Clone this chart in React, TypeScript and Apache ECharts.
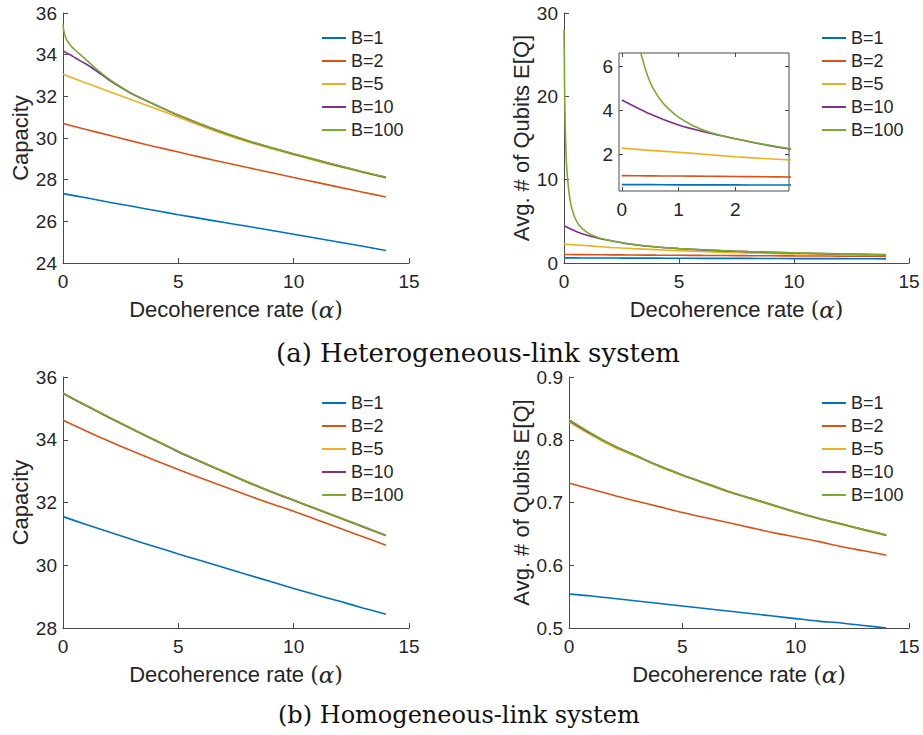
import React, { useEffect, useRef } from "react";
import * as echarts from "echarts";

// ---------- DATA ----------
const seriesNames = ["B=1", "B=2", "B=5", "B=10", "B=100"];
const seriesColors = ["#0072BD", "#D95319", "#EDB120", "#7E2F8E", "#77AC30"];

// (a) Heterogeneous-link system — capacity
const alphaCapFine = [0, 0.02, 0.05, 0.1, 0.2, 0.35, 0.5, 0.7, 1, 1.5, 2, 2.5, 3, 4, 5, 6, 7, 8, 9, 10, 11, 12, 13, 14];
const capHetB100 = [35.45, 35.25, 35.07, 34.87, 34.63, 34.42, 34.25, 34.05, 33.76, 33.26, 32.83, 32.46, 32.13, 31.6, 31.1, 30.66, 30.25, 29.88, 29.55, 29.24, 28.95, 28.66, 28.38, 28.12];
const capHetB10 = [34.18, 34.17, 34.15, 34.12, 34.06, 33.97, 33.87, 33.74, 33.55, 33.18, 32.78, 32.43, 32.11, 31.59, 31.09, 30.65, 30.24, 29.87, 29.54, 29.23, 28.94, 28.65, 28.37, 28.11];
const alphaCapCoarse = [0, 1, 2, 3, 4, 5, 6, 7, 8, 9, 10, 11, 12, 13, 14];
const capHetB5 = [33.06, 32.64, 32.23, 31.82, 31.42, 31.0, 30.58, 30.18, 29.82, 29.5, 29.2, 28.9, 28.62, 28.35, 28.08];
const capHetB2 = [30.7, 30.41, 30.13, 29.85, 29.58, 29.33, 29.07, 28.82, 28.58, 28.34, 28.1, 27.87, 27.63, 27.4, 27.17];
const capHetB1 = [27.33, 27.13, 26.92, 26.72, 26.52, 26.32, 26.13, 25.94, 25.76, 25.57, 25.38, 25.19, 25.0, 24.8, 24.6];

// (a) Heterogeneous-link system — average number of qubits
const alphaQFine = [0, 0.02, 0.04, 0.06, 0.08, 0.1, 0.13, 0.16, 0.2, 0.25, 0.3, 0.35, 0.45, 0.55, 0.7, 0.85, 1, 1.25, 1.5, 1.75, 2, 2.5, 3, 3.5, 4, 5, 6, 7, 8, 9, 10, 11, 12, 13, 14];
const qHetB100 = [28.0, 22.5, 18.5, 15.8, 13.8, 12.3, 11.0, 10.0, 8.9, 7.8, 7.0, 6.45, 5.6, 5.0, 4.4, 4.0, 3.68, 3.3, 3.04, 2.85, 2.7, 2.45, 2.24, 2.07, 1.94, 1.74, 1.59, 1.47, 1.37, 1.29, 1.21, 1.15, 1.09, 1.04, 1.0];
const alphaQCoarse = [0, 0.5, 1, 1.5, 2, 2.5, 3, 4, 5, 6, 7, 8, 9, 10, 11, 12, 13, 14];
const qHetB10 = [4.46, 3.82, 3.32, 2.98, 2.7, 2.44, 2.22, 1.92, 1.73, 1.58, 1.46, 1.36, 1.28, 1.2, 1.14, 1.08, 1.03, 0.99];
const qHetB5 = [2.27, 2.17, 2.08, 1.98, 1.88, 1.8, 1.73, 1.6, 1.48, 1.38, 1.3, 1.22, 1.16, 1.1, 1.05, 1.0, 0.96, 0.93];
const qHetB2 = [1.02, 1.01, 1.0, 0.99, 0.98, 0.97, 0.96, 0.94, 0.93, 0.91, 0.9, 0.88, 0.87, 0.85, 0.84, 0.83, 0.81, 0.8];
const qHetB1 = [0.61, 0.61, 0.6, 0.6, 0.6, 0.59, 0.59, 0.58, 0.57, 0.56, 0.55, 0.55, 0.54, 0.53, 0.52, 0.52, 0.51, 0.5];

// (b) Homogeneous-link system
const alphaHom = [0, 1, 2, 3, 4, 5, 6, 7, 8, 9, 10, 11, 12, 13, 14];
const capHomB1 = [31.55, 31.3, 31.06, 30.82, 30.59, 30.36, 30.14, 29.92, 29.7, 29.48, 29.26, 29.05, 28.85, 28.64, 28.44];
const capHomB2 = [34.62, 34.28, 33.95, 33.64, 33.34, 33.05, 32.77, 32.5, 32.23, 31.97, 31.72, 31.45, 31.18, 30.91, 30.64];
const capHomB5 = [35.47, 35.08, 34.7, 34.33, 33.97, 33.61, 33.28, 32.96, 32.64, 32.34, 32.06, 31.78, 31.5, 31.22, 30.94];
const capHomB10 = [35.48, 35.09, 34.71, 34.34, 33.98, 33.62, 33.29, 32.97, 32.65, 32.35, 32.07, 31.79, 31.51, 31.23, 30.95];
const capHomB100 = [35.49, 35.1, 34.72, 34.35, 33.99, 33.63, 33.3, 32.98, 32.66, 32.36, 32.08, 31.8, 31.52, 31.24, 30.96];
const qHomB1 = [0.554, 0.551, 0.547, 0.543, 0.539, 0.535, 0.531, 0.527, 0.523, 0.519, 0.515, 0.511, 0.508, 0.504, 0.5];
const qHomB2 = [0.731, 0.721, 0.711, 0.702, 0.693, 0.684, 0.676, 0.668, 0.66, 0.652, 0.645, 0.638, 0.63, 0.623, 0.616];
const qHomB5 = [0.828, 0.807, 0.788, 0.773, 0.757, 0.743, 0.73, 0.717, 0.706, 0.695, 0.684, 0.674, 0.665, 0.656, 0.647];
const qHomB10 = [0.831, 0.809, 0.79, 0.774, 0.758, 0.744, 0.731, 0.718, 0.707, 0.696, 0.685, 0.675, 0.666, 0.657, 0.648];
const qHomB100 = [0.832, 0.81, 0.79, 0.774, 0.758, 0.744, 0.731, 0.718, 0.707, 0.696, 0.685, 0.675, 0.666, 0.657, 0.648];

const xTicksMain = [0, 5, 10, 15];
const insetXTicks = [0, 1, 2];
const insetYTicks = [2, 4, 6];
const xTitle = "Decoherence rate {p|(}{a|α}{p|)}";
const capTitle = "Capacity";
const qTitle = "Avg. # of Qubits E[Q]";
const captionA = "(a) Heterogeneous-link system";
const captionB = "(b) Homogeneous-link system";

// ---------- STYLE ----------
const FONT = '"Liberation Sans", Arial, Helvetica, sans-serif';
const TXT = "#262626";
const AXC = "#4a4a4a";

const pairs = (xs: number[], ys: number[]) => xs.map((x, i) => [x, ys[i]]);

function xAxisMain(gridIndex: number) {
  return {
    type: "value",
    gridIndex,
    min: xTicksMain[0],
    max: xTicksMain[xTicksMain.length - 1],
    interval: 5,
    axisLine: { show: true, onZero: false, lineStyle: { color: AXC, width: 1 } },
    axisTick: { show: true, inside: true, length: 5, lineStyle: { color: AXC } },
    splitLine: { show: false },
    axisLabel: { color: TXT, fontSize: 19, fontFamily: FONT, margin: 9 },
    name: xTitle,
    nameLocation: "middle",
    nameGap: 35,
    nameTextStyle: {
      color: TXT,
      fontSize: 22,
      fontFamily: FONT,
      rich: {
        p: { fontFamily: '"DejaVu Serif", serif', fontSize: 22, color: TXT },
        a: { fontFamily: '"DejaVu Serif", serif', fontStyle: "italic", fontSize: 23, color: TXT },
      },
    },
  };
}

function yAxisMain(gridIndex: number, min: number, max: number, interval: number, name: string, gap: number, digits: number) {
  return {
    type: "value",
    gridIndex,
    min,
    max,
    interval,
    axisLine: { show: true, onZero: false, lineStyle: { color: AXC, width: 1 } },
    axisTick: { show: true, inside: true, length: 5, lineStyle: { color: AXC } },
    splitLine: { show: false },
    axisLabel: {
      color: TXT,
      fontSize: 19,
      fontFamily: FONT,
      margin: 6,
      formatter: (v: number) => v.toFixed(digits),
    },
    name,
    nameLocation: "middle",
    nameGap: gap,
    nameTextStyle: { color: TXT, fontSize: 22, fontFamily: FONT },
  };
}

function legend(left: number, top: number) {
  return {
    orient: "vertical",
    left,
    top,
    icon: "rect",
    itemWidth: 24,
    itemHeight: 2,
    itemGap: 5,
    selectedMode: false,
    data: seriesNames,
    textStyle: { color: TXT, fontSize: 18, fontFamily: FONT, lineHeight: 18 },
  };
}

function lines(xi: number, data: number[][][]) {
  return data.map((d, i) => ({
    type: "line",
    name: seriesNames[i],
    xAxisIndex: xi,
    yAxisIndex: xi,
    data: d,
    symbol: "none",
    showSymbol: false,
    smooth: 0.25,
    clip: true,
    silent: true,
    lineStyle: { color: seriesColors[i], width: 1.6 },
    itemStyle: { color: seriesColors[i] },
  }));
}

export default function App() {
  const ref = useRef<HTMLDivElement>(null);
  useEffect(() => {
    if (!ref.current) return;
    const chart = echarts.init(ref.current, null, { renderer: "svg" });

    const hetCap = [
      pairs(alphaCapCoarse, capHetB1),
      pairs(alphaCapCoarse, capHetB2),
      pairs(alphaCapCoarse, capHetB5),
      pairs(alphaCapFine, capHetB10),
      pairs(alphaCapFine, capHetB100),
    ];
    const hetQ = [
      pairs(alphaQCoarse, qHetB1),
      pairs(alphaQCoarse, qHetB2),
      pairs(alphaQCoarse, qHetB5),
      pairs(alphaQCoarse, qHetB10),
      pairs(alphaQFine, qHetB100),
    ];
    const homCap = [capHomB1, capHomB2, capHomB5, capHomB10, capHomB100].map((ys) => pairs(alphaHom, ys));
    const homQ = [qHomB1, qHomB2, qHomB5, qHomB10, qHomB100].map((ys) => pairs(alphaHom, ys));

    const option: any = {
      animation: false,
      backgroundColor: "#ffffff",
      grid: [
        { left: 63, top: 13, width: 346, height: 250 },
        { left: 564, top: 13, width: 345, height: 250 },
        { left: 619, top: 53, width: 170, height: 138, show: true, borderColor: AXC, borderWidth: 1, backgroundColor: "#ffffff" },
        { left: 63, top: 377, width: 346, height: 251 },
        { left: 569, top: 377, width: 340, height: 251 },
      ],
      xAxis: [
        xAxisMain(0),
        xAxisMain(1),
        {
          type: "value",
          gridIndex: 2,
          min: -0.05,
          max: 2.95,
          axisLine: { show: false, onZero: false },
          axisTick: { show: true, inside: true, length: 4, customValues: insetXTicks, lineStyle: { color: AXC } },
          splitLine: { show: false },
          axisLabel: { color: TXT, fontSize: 19, fontFamily: FONT, margin: 9, customValues: insetXTicks },
        },
        xAxisMain(3),
        xAxisMain(4),
        {
          type: "value",
          gridIndex: 2,
          position: "top",
          min: -0.05,
          max: 2.95,
          axisLine: { show: false, onZero: false },
          axisTick: { show: true, inside: true, length: 4, customValues: insetXTicks, lineStyle: { color: AXC } },
          splitLine: { show: false },
          axisLabel: { show: false },
        },
      ],
      yAxis: [
        yAxisMain(0, 24, 36, 2, capTitle, 31, 0),
        yAxisMain(1, 0, 30, 10, qTitle, 30, 0),
        {
          type: "value",
          gridIndex: 2,
          min: 0.32,
          max: 6.6,
          axisLine: { show: false, onZero: false },
          axisTick: { show: true, inside: true, length: 4, customValues: insetYTicks, lineStyle: { color: AXC } },
          splitLine: { show: false },
          axisLabel: { color: TXT, fontSize: 19, fontFamily: FONT, margin: 6, customValues: insetYTicks },
        },
        yAxisMain(3, 28, 36, 2, capTitle, 31, 0),
        yAxisMain(4, 0.5, 0.9, 0.1, qTitle, 35, 1),
        {
          type: "value",
          gridIndex: 2,
          position: "right",
          min: 0.32,
          max: 6.6,
          axisLine: { show: false, onZero: false },
          axisTick: { show: true, inside: true, length: 4, customValues: insetYTicks, lineStyle: { color: AXC } },
          splitLine: { show: false },
          axisLabel: { show: false },
        },
      ],
      legend: [legend(317, 24), legend(817, 24), legend(317, 389), legend(817, 389)],
      series: [
        ...lines(0, hetCap),
        ...lines(1, hetQ),
        ...lines(2, hetQ),
        ...lines(3, homCap),
        ...lines(4, homQ),
      ],
      graphic: [
        {
          type: "text",
          x: 276,
          y: 353,
          style: { text: captionA, fontSize: 26, fontFamily: '"DejaVu Serif", serif', fill: "#111", verticalAlign: "middle", align: "left" },
        },
        {
          type: "text",
          x: 278,
          y: 715,
          style: { text: captionB, fontSize: 24, fontFamily: '"DejaVu Serif", serif', fill: "#111", verticalAlign: "middle", align: "left" },
        },
      ],
    };
    chart.setOption(option);
    return () => chart.dispose();
  }, []);
  return (
    <div
      ref={ref}
      style={{ position: "fixed", left: 0, top: 0, width: 923, height: 735, background: "#fff" }}
    />
  );
}
